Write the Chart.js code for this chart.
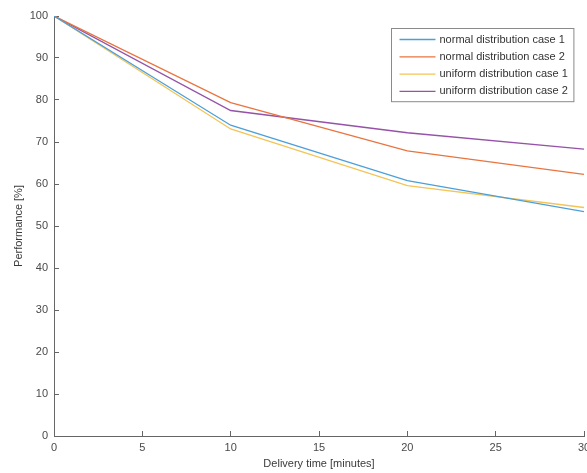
<!DOCTYPE html>
<html>
<head>
<meta charset="utf-8">
<script src="https://cdn.jsdelivr.net/npm/chart.js@4"></script>
<style>
  html, body { margin: 0; padding: 0; background: #fff; }
  #wrap { width: 587px; height: 473px; }
</style>
</head>
<body>
<div id="wrap"><canvas id="myChart"></canvas></div>
<script>
// delivery time (minutes) and performance (%) per case
const deliveryTimes = [0, 10, 20, 30];
const normalCase1 = [100, 74.0, 60.8, 53.4];
const normalCase2 = [100, 79.4, 67.9, 62.3];
const uniformCase1 = [100, 73.1, 59.6, 54.4];
const uniformCase2 = [100, 77.5, 72.2, 68.3];
const seriesLabels = ['normal distribution case 1', 'normal distribution case 2',
  'uniform distribution case 1', 'uniform distribution case 2'];
const seriesColors = ['#4c9fd9', '#e9743f', '#f3c456', '#9552a8'];

const FONT = '"Liberation Sans", Arial, sans-serif';
const pts = vals => vals.map((v, i) => ({ x: deliveryTimes[i], y: v }));

// legend box drawn inside the plot, top right (matlab style)
const boxLegend = {
  id: 'boxLegend',
  afterDatasetsDraw(chart) {
    const ctx = chart.ctx;
    const area = chart.chartArea;
    const rowH = 17.3;
    const lineLen = 36;
    ctx.save();
    ctx.font = '11px ' + FONT;
    const widths = chart.data.datasets.map(d => ctx.measureText(d.label).width);
    const boxW = 8 + lineLen + 4 + Math.max(...widths) + 6;
    const boxH = rowH * chart.data.datasets.length + 4;
    const bx = Math.round(area.right - 11 - boxW) + 0.5;
    const by = Math.round(area.top + 12) + 0.5;
    ctx.fillStyle = '#fff';
    ctx.fillRect(bx, by, boxW, boxH);
    ctx.strokeStyle = '#8a8a8a';
    ctx.lineWidth = 1;
    ctx.strokeRect(bx, by, boxW, boxH);
    chart.data.datasets.forEach((d, i) => {
      const y = by + 11 + i * rowH;
      ctx.strokeStyle = d.borderColor;
      ctx.lineWidth = 1.3;
      ctx.beginPath();
      ctx.moveTo(bx + 8, y);
      ctx.lineTo(bx + 8 + lineLen, y);
      ctx.stroke();
      ctx.fillStyle = '#333';
      ctx.textAlign = 'left';
      ctx.textBaseline = 'middle';
      ctx.fillText(d.label, bx + 8 + lineLen + 4, y);
    });
    ctx.restore();
  }
};

const allSeries = [normalCase1, normalCase2, uniformCase1, uniformCase2];

new Chart(document.getElementById('myChart').getContext('2d'), {
  type: 'line',
  data: {
    datasets: allSeries.map((vals, i) => ({
      label: seriesLabels[i],
      data: pts(vals),
      borderColor: seriesColors[i],
      backgroundColor: seriesColors[i],
      borderWidth: 1.3,
      pointRadius: 0,
      tension: 0,
      fill: false
    }))
  },
  options: {
    responsive: true,
    maintainAspectRatio: false,
    animation: false,
    layout: { padding: { top: 16, right: 3, left: 0, bottom: 0 } },
    plugins: {
      legend: { display: false },
      tooltip: { enabled: false }
    },
    scales: {
      x: {
        type: 'linear',
        min: 0,
        max: 30,
        ticks: { stepSize: 5, color: '#4a4a4a', padding: 10, maxRotation: 0,
          font: { family: FONT, size: 11 } },
        grid: { drawOnChartArea: false, tickLength: -5, color: '#666' },
        border: { color: '#666', width: 1 },
        title: { display: true, text: 'Delivery time [minutes]', color: '#3a3a3a',
          font: { family: FONT, size: 11 }, padding: { top: 0, bottom: 2.5 } },
        afterFit: s => { s.height = 37; s.paddingLeft = 0; s.paddingRight = 0; }
      },
      y: {
        min: 0,
        max: 100,
        ticks: { stepSize: 10, color: '#4a4a4a', padding: 11,
          font: { family: FONT, size: 11 } },
        grid: { drawOnChartArea: false, tickLength: -5, color: '#666' },
        border: { color: '#666', width: 1 },
        title: { display: true, text: 'Performance [%]', color: '#3a3a3a',
          font: { family: FONT, size: 11 }, padding: { top: 12.5, bottom: 0 } },
        afterFit: s => { s.width = 54; s.paddingTop = 0; s.paddingBottom = 0; }
      }
    }
  },
  plugins: [boxLegend]
});
</script>
</body>
</html>
